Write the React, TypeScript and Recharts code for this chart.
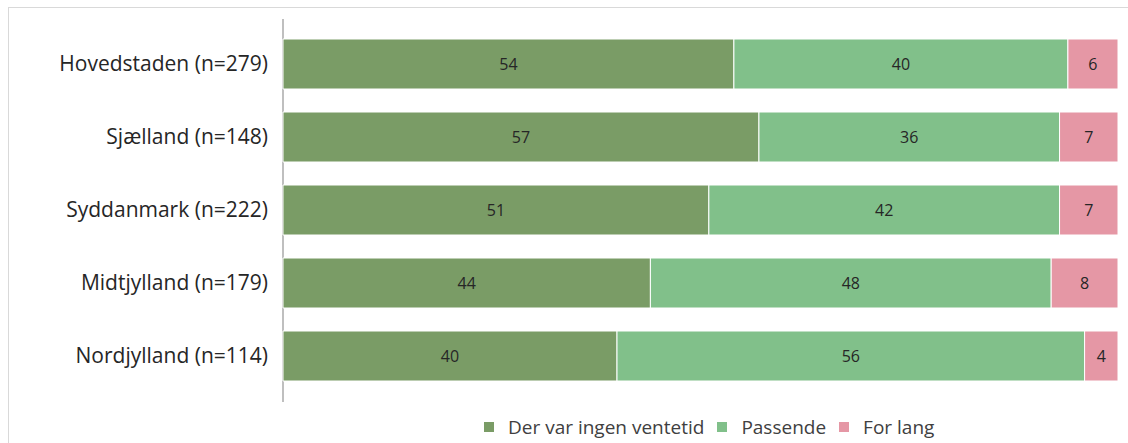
import React from 'react';
import { BarChart, Bar, XAxis, YAxis, LabelList } from 'recharts';

const regions = [
  'Hovedstaden (n=279)',
  'Sjælland (n=148)',
  'Syddanmark (n=222)',
  'Midtjylland (n=179)',
  'Nordjylland (n=114)',
];
const ingenVentetid = [54, 57, 51, 44, 40];
const passende = [40, 36, 42, 48, 56];
const forLang = [6, 7, 7, 8, 4];

const seriesNames = ['Der var ingen ventetid', 'Passende', 'For lang'];
const colors = ['#7a9c66', '#81c08a', '#e597a5'];

const data = regions.map((name, i) => ({
  name,
  ingen: ingenVentetid[i],
  passende: passende[i],
  lang: forLang[i],
}));

const font = '"Open Sans", sans-serif';

const LegendBox = () => (
  <div style={{ position: 'absolute', left: 484, top: 414, display: 'flex', fontFamily: font, fontSize: 19, color: '#404040', lineHeight: '26px' }}>
    {seriesNames.map((n, i) => (
      <div key={n} style={{ display: 'flex', alignItems: 'center', marginRight: 13 }}>
        <span style={{ width: 10, height: 10, background: colors[i], display: 'inline-block', marginRight: 14 }} />
        <span>{n}</span>
      </div>
    ))}
  </div>
);

const App: React.FC = () => {
  return (
    <div style={{ position: 'absolute', left: 0, top: 0, width: 1128, height: 443, background: '#fff', overflow: 'hidden' }}>
      <div style={{ position: 'absolute', left: 8, top: 7, width: 1125, height: 460, border: '1px solid #d9d9d9' }} />
      {/* category axis line runs a bit past the bars, like the original */}
      <div style={{ position: 'absolute', left: 282, top: 19, width: 2, height: 383, background: '#bfbfbf' }} />
      <BarChart
        width={1128}
        height={443}
        data={data}
        layout="vertical"
        margin={{ top: 27, right: 10, bottom: 51, left: 0 }}
        barSize={50}
      >
        <XAxis type="number" domain={[0, 100]} hide />
        <YAxis
          type="category"
          dataKey="name"
          width={283}
          tickSize={0}
          tickMargin={15}
          axisLine={false}
          tick={{ fill: '#262626', fontSize: 21, fontFamily: font }}
        />
        <Bar dataKey="ingen" stackId="a" fill={colors[0]} stroke="#fff" strokeWidth={1} isAnimationActive={false}>
          <LabelList dataKey="ingen" position="center" fill="#262626" fontSize={16} fontFamily={font} />
        </Bar>
        <Bar dataKey="passende" stackId="a" fill={colors[1]} stroke="#fff" strokeWidth={1} isAnimationActive={false}>
          <LabelList dataKey="passende" position="center" fill="#262626" fontSize={16} fontFamily={font} />
        </Bar>
        <Bar dataKey="lang" stackId="a" fill={colors[2]} stroke="#fff" strokeWidth={1} isAnimationActive={false}>
          <LabelList dataKey="lang" position="center" fill="#262626" fontSize={16} fontFamily={font} />
        </Bar>
      </BarChart>
      <LegendBox />
    </div>
  );
};

export default App;
